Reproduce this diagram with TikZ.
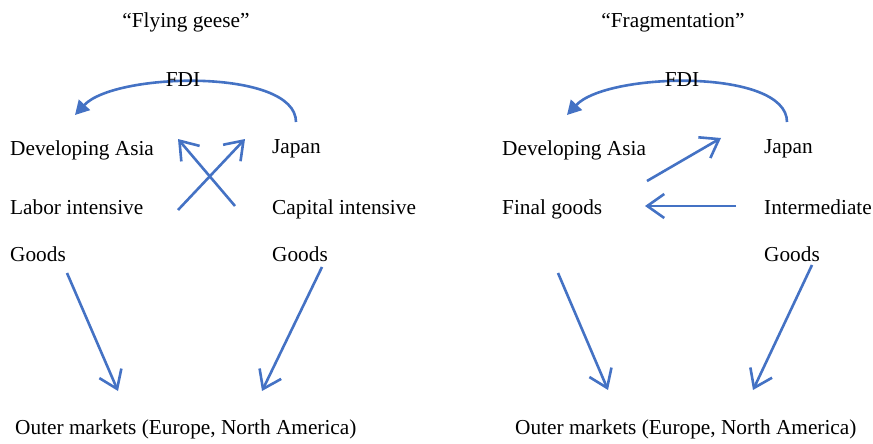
\documentclass[tikz,border=0pt]{standalone}
\usepackage{fontspec}
\setmainfont{Liberation Serif}
\usetikzlibrary{arrows.meta,positioning}
\definecolor{pblue}{RGB}{68,114,196}
\tikzset{
  txt/.style={anchor=base west,inner sep=0pt,font=\fontsize{21.3}{25}\selectfont},
  ttl/.style={anchor=base,inner sep=0pt,font=\fontsize{21.3}{25}\selectfont},
  arr/.style={draw=pblue,line width=2.6pt,-{Straight Barb[length=17pt,width=24pt]}},
  fdiarr/.style={draw=pblue,line width=2.6pt,-{Triangle[length=14pt,width=15pt]}},
}

\begin{document}
\begin{tikzpicture}[x=1pt,y=-1pt]
  \useasboundingbox (0,0) rectangle (873,444);
  % left: flying geese
  \node[ttl] (t1) at (186,28) {“Flying geese”};
  \node[txt] (da1) at (10,155) {Developing Asia};
  \node[txt] (jp1) at (272,153) {Japan};
  \node[txt] (lab) at (10,214) {Labor intensive};
  \node[txt] (cap) at (272,214) {Capital intensive};
  \node[txt] (g1) at (10,261) {Goods};
  \node[txt] (g2) at (272,261) {Goods};
  \node[txt] (om1) at (15,434) {Outer markets (Europe, North America)};
  \coordinate (f1s) at (296,122); \coordinate (f1e) at (75,115);
  \coordinate (x1s) at (178,210); \coordinate (x1e) at (245,139);
  \coordinate (x2s) at (235,206); \coordinate (x2e) at (178,139);
  \coordinate (d1s) at (67,273);  \coordinate (d1e) at (118,391);
  \coordinate (d2s) at (322,267); \coordinate (d2e) at (262,391);
  \draw[fdiarr] (f1s) .. controls (296,68) and (115,72) .. (f1e);
  \node[ttl] (fdi1) at (183,87) {FDI};
  \draw[arr] (x1s) -- (x1e); \draw[arr] (x2s) -- (x2e);
  \draw[arr] (d1s) -- (d1e); \draw[arr] (d2s) -- (d2e);
  % right: fragmentation
  \node[ttl] (t2) at (673,28) {“Fragmentation”};
  \node[txt] (da2) at (502,155) {Developing Asia};
  \node[txt] (jp2) at (764,153) {Japan};
  \node[txt] (fin) at (502,214) {Final goods};
  \node[txt] (imd) at (764,214) {Intermediate};
  \node[txt] (g3) at (764,261) {Goods};
  \node[txt] (om2) at (515,434) {Outer markets (Europe, North America)};
  \coordinate (f2s) at (787,122); \coordinate (f2e) at (567,115);
  \coordinate (r1s) at (647,181); \coordinate (r1e) at (721,138);
  \coordinate (r2s) at (736,206); \coordinate (r2e) at (645,206);
  \coordinate (d3s) at (558,273); \coordinate (d3e) at (608,390);
  \coordinate (d4s) at (812,265); \coordinate (d4e) at (753,390);
  \draw[fdiarr] (f2s) .. controls (787,68) and (607,72) .. (f2e);
  \node[ttl] (fdi2) at (682,87) {FDI};
  \draw[arr] (r1s) -- (r1e); \draw[arr] (r2s) -- (r2e);
  \draw[arr] (d3s) -- (d3e); \draw[arr] (d4s) -- (d4e);
\end{tikzpicture}
\end{document}
